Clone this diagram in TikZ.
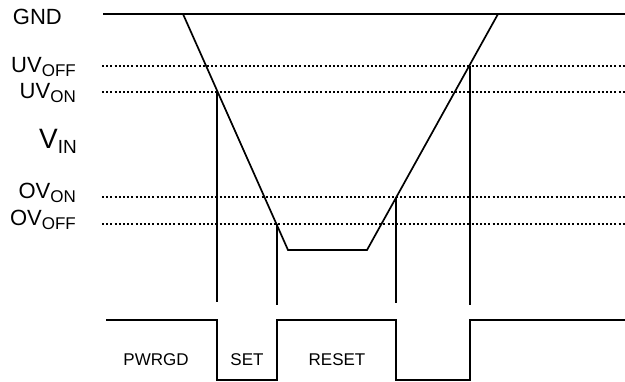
\documentclass[tikz,border=0pt]{standalone}
\usepackage{fontspec}
\setmainfont{Liberation Sans}
\begin{document}
\begin{tikzpicture}[x=1pt,y=-1pt,
  sig/.style={line width=1.7pt, black},
  thr/.style={line width=2pt, dash pattern=on 2pt off 2.2pt},
  lbl/.style={inner sep=0pt, anchor=base east, font=\fontsize{22}{22}\selectfont},
  blbl/.style={inner sep=0pt, anchor=base, font=\fontsize{17}{17}\selectfont}]
\useasboundingbox (0,0) rectangle (625,381);
\newcommand{\sbs}[1]{\raisebox{-4.5pt}{\fontsize{17}{17}\selectfont #1}}
% coordinates
\coordinate (g0) at (103,14); \coordinate (g1) at (625,14);
\coordinate (a) at (183,14); \coordinate (b) at (288,250);
\coordinate (c) at (367,250); \coordinate (d) at (498,14);
\coordinate (uf0) at (102,66); \coordinate (uf1) at (625,66);
\coordinate (un0) at (102,92); \coordinate (un1) at (625,92);
\coordinate (on0) at (102,197); \coordinate (on1) at (625,197);
\coordinate (of0) at (102,224); \coordinate (of1) at (625,224);
\coordinate (v1t) at (217,92); \coordinate (v1b) at (217,302);
\coordinate (v2t) at (277,224); \coordinate (v2b) at (277,305);
\coordinate (v3t) at (396,197); \coordinate (v3b) at (396,303);
\coordinate (v4t) at (470,66); \coordinate (v4b) at (470,305);
\coordinate (w0) at (106,320); \coordinate (w1) at (217,320); \coordinate (w2) at (217,380);
\coordinate (w3) at (277,380); \coordinate (w4) at (277,320); \coordinate (w5) at (396,320);
\coordinate (w6) at (396,380); \coordinate (w7) at (470,380); \coordinate (w8) at (470,320);
\coordinate (w9) at (625,320);
% threshold lines
\draw[thr] (uf0) -- (uf1);
\draw[thr] (un0) -- (un1);
\draw[thr] (on0) -- (on1);
\draw[thr] (of0) -- (of1);
% GND and Vin trace
\draw[sig] (g0) -- (g1);
\draw[sig, line join=miter] (a) -- (b) -- (c) -- (d);
% verticals
\draw[sig] (v1t) -- (v1b);
\draw[sig] (v2t) -- (v2b);
\draw[sig] (v3t) -- (v3b);
\draw[sig] (v4t) -- (v4b);
% PWRGD waveform
\draw[sig, line join=miter] (w0) -- (w1) -- (w2) -- (w3) -- (w4) -- (w5) -- (w6) -- (w7) -- (w8) -- (w9);
% left labels
\node[lbl] (lgnd) at (62,24) {GND};
\node[lbl] (luvoff) at (76,72) {UV\sbs{OFF}};
\node[lbl] (luvon) at (76,98) {UV\sbs{ON}};
\node[lbl] (lvin) at (77,148) {\fontsize{28}{28}\selectfont V\raisebox{-5pt}{\fontsize{19}{19}\selectfont IN}};
\node[lbl] (lovon) at (76,198) {OV\sbs{ON}};
\node[lbl] (lovoff) at (76,225) {OV\sbs{OFF}};
% bottom labels
\node[blbl] (lpg) at (156,365) {PWRGD};
\node[blbl] (lset) at (247,365) {SET};
\node[blbl] (lreset) at (337,365) {RESET};
\end{tikzpicture}
\end{document}
